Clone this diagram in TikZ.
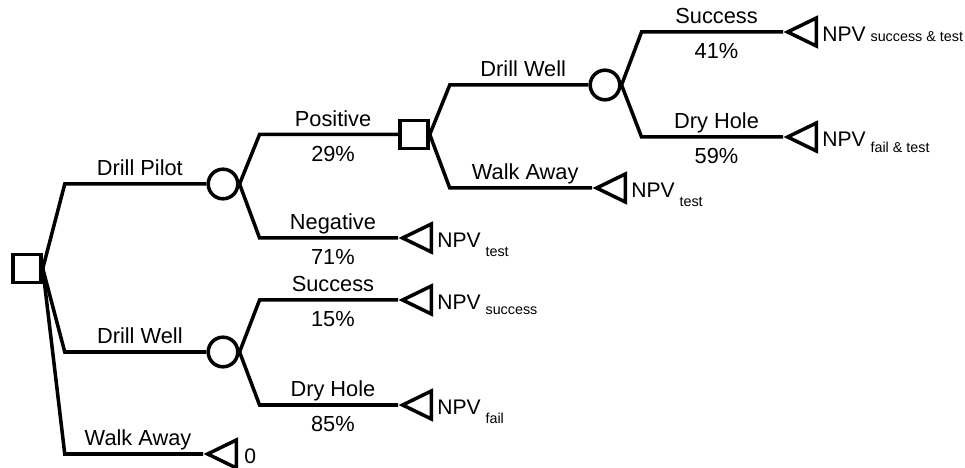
\documentclass[tikz,border=0pt]{standalone}
\usepackage{fontspec}
\setmainfont{Liberation Sans}
\usetikzlibrary{shapes.geometric}
\newcommand{\npv}[2]{NPV\hspace{0.12cm}\raisebox{#1}{\fontsize{10.2}{12}\selectfont #2}}

\begin{document}
\begin{tikzpicture}[
    branch/.style={line width=2.5pt},
    decision/.style={draw, line width=2.5pt, rectangle, minimum size=0.7cm, inner sep=0},
    chance/.style={draw, line width=2.5pt, circle, minimum size=0.74cm, inner sep=0},
    payoff/.style={draw, line width=2.5pt, isosceles triangle, isosceles triangle stretches,
        shape border rotate=180, minimum width=0.7cm, minimum height=0.72cm, inner sep=0, anchor=apex},
    choicelabel/.style={pos=0.53, anchor=base, yshift=0.2cm, inner sep=0, font=\fontsize{15.5}{18}\selectfont},
    problabel/.style={pos=0.53, anchor=base, yshift=-0.675cm, inner sep=0, font=\fontsize{15.5}{18}\selectfont},
    payofftext/.style={anchor=base west, inner sep=0, font=\fontsize{15}{18}\selectfont}
]
    \useasboundingbox (0,0) rectangle (24.125,11.7);

    % Decision and chance nodes
    \node[decision] (root) at (0.675,4.9875) {};
    \node[chance] (pilot) at (5.575,7.1) {};
    \node[chance] (well) at (5.575,2.9) {};
    \node[decision] (positive) at (10.35,8.3375) {};
    \node[chance] (well2) at (15.125,9.575) {};

    % End nodes
    \node[payoff] (walk) at (5.075,0.35) {};
    \node[payoff] (negative) at (9.95,5.75) {};
    \node[payoff] (success) at (9.95,4.2) {};
    \node[payoff] (dry) at (9.95,1.575) {};
    \node[payoff] (walk2) at (14.8,7.0) {};
    \node[payoff] (success2) at (19.575,10.9) {};
    \node[payoff] (dry2) at (19.575,8.275) {};

    % Branches from the first decision
    \draw[branch] (root.east) -- ([xshift=0.55cm]root.east |- pilot) -- node[choicelabel]{Drill Pilot} (pilot.west);
    \draw[branch] (root.east) -- ([xshift=0.55cm]root.east |- well) -- node[choicelabel]{Drill Well} (well.west);
    \draw[branch] (root.east) -- ([xshift=0.55cm]root.east |- walk) -- node[choicelabel]{Walk Away} (walk.apex);

    % Pilot outcomes
    \draw[branch] (pilot.east) -- ([xshift=0.5cm]pilot.east |- positive) -- node[choicelabel]{Positive} node[problabel]{29\%} (positive.west);
    \draw[branch] (pilot.east) -- ([xshift=0.5cm]pilot.east |- negative) -- node[choicelabel]{Negative} node[problabel]{71\%} (negative.apex);

    % Well outcomes without test
    \draw[branch] (well.east) -- ([xshift=0.5cm]well.east |- success) -- node[choicelabel]{Success} node[problabel]{15\%} (success.apex);
    \draw[branch] (well.east) -- ([xshift=0.5cm]well.east |- dry) -- node[choicelabel]{Dry Hole} node[problabel]{85\%} (dry.apex);

    % Decision after positive test
    \draw[branch] (positive.east) -- ([xshift=0.5cm]positive.east |- well2) -- node[choicelabel]{Drill Well} (well2.west);
    \draw[branch] (positive.east) -- ([xshift=0.5cm]positive.east |- walk2) -- node[choicelabel]{Walk Away} (walk2.apex);

    % Well outcomes after test
    \draw[branch] (well2.east) -- ([xshift=0.5cm]well2.east |- success2) -- node[choicelabel]{Success} node[problabel]{41\%} (success2.apex);
    \draw[branch] (well2.east) -- ([xshift=0.5cm]well2.east |- dry2) -- node[choicelabel]{Dry Hole} node[problabel]{59\%} (dry2.apex);

    % Payoffs
    \node[payofftext] (walkval) at ([xshift=0.15cm,yshift=-0.25cm]walk.east) {0};
    \node[payofftext] (negval) at ([xshift=0.1cm,yshift=-0.25cm]negative.east) {\npv{-0.225cm}{test}};
    \node[payofftext] (succval) at ([xshift=0.1cm,yshift=-0.25cm]success.east) {\npv{-0.125cm}{success}};
    \node[payofftext] (dryval) at ([xshift=0.1cm,yshift=-0.25cm]dry.east) {\npv{-0.225cm}{fail}};
    \node[payofftext] (walk2val) at ([xshift=0.1cm,yshift=-0.25cm]walk2.east) {\npv{-0.225cm}{test}};
    \node[payofftext] (succ2val) at ([xshift=0.1cm,yshift=-0.25cm]success2.east) {\npv{0cm}{success \& test}};
    \node[payofftext] (dry2val) at ([xshift=0.1cm,yshift=-0.25cm]dry2.east) {\npv{-0.15cm}{fail \& test}};
\end{tikzpicture}
\end{document}
